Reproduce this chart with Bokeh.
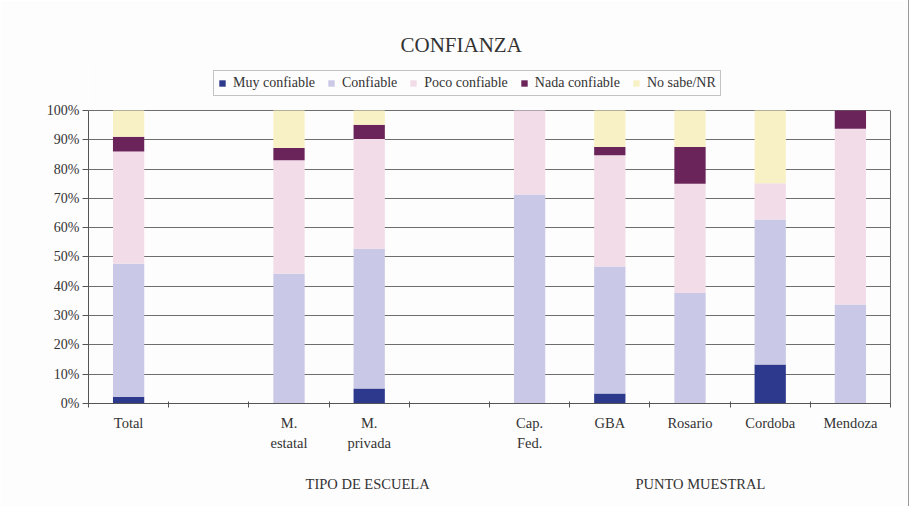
from bokeh.plotting import figure
from bokeh.models import Range1d, FixedTicker, Legend, LinearAxis, ColumnDataSource
from bokeh.embed import file_html
from bokeh.resources import INLINE

# ---- data (percent) ----
categories = ["Total", "", "M.\nestatal", "M.\nprivada", "", "Cap.\nFed.",
              "GBA", "Rosario", "Cordoba", "Mendoza"]
muy_confiable = [2.3, 0, 0.0, 5.1, 0, 0.0, 3.4, 0.0, 13.3, 0.0]
confiable = [45.4, 0, 44.3, 47.7, 0, 71.3, 43.4, 37.7, 49.5, 33.8]
poco_confiable = [38.3, 0, 38.7, 37.5, 0, 28.7, 37.9, 37.3, 12.4, 60.0]
nada_confiable = [5.0, 0, 4.2, 4.8, 0, 0.0, 2.8, 12.5, 0.0, 6.2]
no_sabe = [9.0, 0, 12.8, 4.9, 0, 0.0, 12.5, 12.5, 24.8, 0.0]

series_names = ["Muy confiable", "Confiable", "Poco confiable", "Nada confiable", "No sabe/NR"]
series_keys = ["muy", "conf", "poco", "nada", "nr"]
colors = ["#2d398c", "#c9c8e6", "#f1dce7", "#6a2459", "#f8f1c6"]
y_ticks = [0, 10, 20, 30, 40, 50, 60, 70, 80, 90, 100]
group_labels = ["TIPO DE ESCUELA", "PUNTO MUESTRAL"]
group_pos = [3.48, 7.63]
title_text = "CONFIANZA"

FONT = "Liberation Serif"
TXT = "#333333"
AX = "#555555"

n = len(categories)
xs = [i + 0.5 for i in range(n)]
src = ColumnDataSource(dict(x=xs, muy=muy_confiable, conf=confiable,
                            poco=poco_confiable, nada=nada_confiable, nr=no_sabe))

# frame spans from y=56 (top) to y=403 (0%); 100% sits at y=110
p = figure(width=908, height=506, output_backend="svg", toolbar_location=None,
           x_range=Range1d(0, n), y_range=Range1d(0, 118.43),
           min_border_left=88, min_border_right=18, min_border_top=56,
           min_border_bottom=103)
p.background_fill_color = "#fefdfd"
p.border_fill_color = "#fefdfd"
p.outline_line_color = None
p.styles = {"box-shadow": "1px 0 0 0 #9a9a9a"}

renderers = p.vbar_stack(series_keys, x="x", width=0.39, source=src,
                         color=colors, line_color=None)

# title
p.title.text = title_text
p.title.align = "left"
p.title.offset = 312
p.title.text_font = FONT
p.title.text_font_size = "21px"
p.title.text_font_style = "normal"
p.title.text_color = TXT
p.title.standoff = 0

# axes
p.xaxis.ticker = FixedTicker(ticks=xs, minor_ticks=list(range(n + 1)))
p.xaxis.major_label_overrides = {x: c for x, c in zip(xs, categories)}
p.xaxis.major_tick_line_color = None
p.xaxis.major_tick_out = 0
p.xaxis.major_tick_in = 0
p.xaxis.minor_tick_line_color = AX
p.xaxis.minor_tick_in = 2
p.xaxis.minor_tick_out = 4
p.xaxis.major_label_standoff = 7
p.xaxis.major_label_text_font = FONT
p.xaxis.major_label_text_font_size = "14.5px"
p.xaxis.major_label_text_color = TXT
p.xaxis.major_label_text_line_height = 1.3
p.xaxis.axis_line_color = AX

group_axis = LinearAxis(ticker=FixedTicker(ticks=group_pos),
                        major_label_overrides={x: t for x, t in zip(group_pos, group_labels)},
                        axis_line_color=None, major_tick_line_color=None,
                        minor_tick_line_color=None, major_tick_in=0, major_tick_out=0,
                        major_label_standoff=21, major_label_text_font=FONT,
                        major_label_text_font_size="14.5px", major_label_text_color=TXT)
p.add_layout(group_axis, "below")

p.yaxis.ticker = FixedTicker(ticks=y_ticks)
p.yaxis.bounds = (0, 100)
p.yaxis.major_label_overrides = {t: f"{t}%" for t in y_ticks}
p.yaxis.minor_tick_line_color = None
p.yaxis.major_tick_out = 6
p.yaxis.major_tick_in = 0
p.yaxis.major_tick_line_color = AX
p.yaxis.major_label_standoff = 3
p.yaxis.major_label_text_font = FONT
p.yaxis.major_label_text_font_size = "14px"
p.yaxis.major_label_text_color = TXT
p.yaxis.axis_line_color = AX

# right border of the plot area
right_axis = LinearAxis(ticker=FixedTicker(ticks=[]), bounds=(0, 100),
                        axis_line_color="#6e6e6e", major_label_text_font_size="0px",
                        major_tick_line_color=None, minor_tick_line_color=None)
p.add_layout(right_axis, "right")

p.xgrid.grid_line_color = None
p.ygrid.ticker = FixedTicker(ticks=y_ticks)
p.ygrid.grid_line_color = "#6e6e6e"

legend = Legend(items=[(nm, [r]) for nm, r in zip(series_names, renderers)],
                orientation="horizontal", location=(125, 307),
                glyph_width=8, glyph_height=8, label_standoff=7, spacing=12,
                padding=4, margin=0, label_height=14,
                label_text_font=FONT, label_text_font_size="14px",
                label_text_color=TXT,
                border_line_color="#8a8a8a", background_fill_color="#fefdfd")
p.add_layout(legend, "center")

open("out.html", "w").write(file_html(p, INLINE))
